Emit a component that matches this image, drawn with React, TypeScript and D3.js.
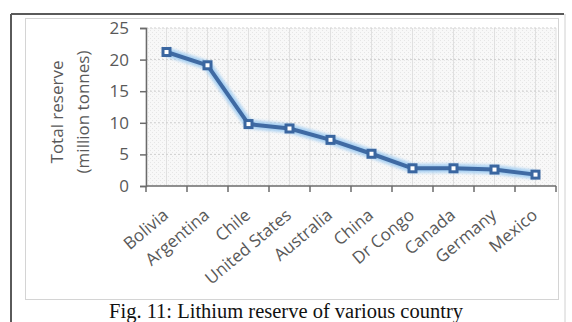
import React from "react";
import * as d3 from "d3";

const countries = ["Bolivia", "Argentina", "Chile", "United States", "Australia", "China", "Dr Congo", "Canada", "Germany", "Mexico"];
const reserves = [21.2, 19.1, 9.8, 9.1, 7.3, 5.1, 2.8, 2.8, 2.6, 1.8];
const yTicks = [0, 5, 10, 15, 20, 25];
const yTitle = ["Total reserve", "(million tonnes)"];
const caption = "Fig. 11: Lithium reserve of various country";

const W = 572;
const H = 322;
const margin = { left: 146, right: 16, top: 28, bottom: 136 };
const font = "Open Sans, sans-serif";

const App = () => {
    const svgRef = React.useRef(null);

    React.useEffect(() => {
        const xScale = d3
            .scaleBand()
            .domain(countries)
            .range([margin.left, W - margin.right]);
        const yScale = d3
            .scaleLinear()
            .domain([0, 25])
            .range([H - margin.bottom, margin.top]);

        const svgEl = d3.select(svgRef.current);
        svgEl.selectAll("*").remove();

        // hatch pattern for the plot area
        const defs = svgEl.append("defs");
        const pat = defs
            .append("pattern")
            .attr("id", "hatch")
            .attr("width", 4)
            .attr("height", 4)
            .attr("patternUnits", "userSpaceOnUse");
        pat.append("rect").attr("width", 4).attr("height", 4).attr("fill", "#f8f8f8");
        pat.append("rect").attr("width", 1).attr("height", 1).attr("fill", "#e6e6e6");
        pat.append("rect").attr("x", 2).attr("y", 2).attr("width", 1).attr("height", 1).attr("fill", "#e6e6e6");
        const glow = defs.append("filter").attr("id", "glow").attr("x", "-20%").attr("y", "-20%").attr("width", "140%").attr("height", "140%");
        glow.append("feGaussianBlur").attr("stdDeviation", 1.5);

        svgEl.append("rect").attr("width", W).attr("height", H).attr("fill", "white");

        // outer frame
        svgEl.append("line").attr("x1", 11).attr("x2", 564).attr("y1", 14).attr("y2", 14)
            .attr("stroke", "#5a5a5a").attr("stroke-width", 2);
        svgEl.append("line").attr("x1", 11).attr("x2", 11).attr("y1", 14).attr("y2", H)
            .attr("stroke", "#5a5a5a").attr("stroke-width", 2);
        svgEl.append("line").attr("x1", 565).attr("x2", 565).attr("y1", 14).attr("y2", H)
            .attr("stroke", "#d0d0d0").attr("stroke-width", 1);
        // inner chart box
        svgEl.append("rect").attr("x", 25.5).attr("y", 18.5).attr("width", 533).attr("height", 281)
            .attr("fill", "white").attr("stroke", "#d4d4d4");

        const [x0, x1] = xScale.range();
        const [y0, y1] = yScale.range();
        svgEl.append("rect").attr("x", x0).attr("y", y1).attr("width", x1 - x0).attr("height", y0 - y1)
            .attr("fill", "url(#hatch)");

        // vertical grid (band edges and centres)
        const bw = xScale.bandwidth();
        const vLines = [];
        countries.forEach((c) => {
            vLines.push(xScale(c));
            vLines.push(xScale(c) + bw / 2);
        });
        vLines.push(x1);
        svgEl.append("g").selectAll("line").data(vLines).enter().append("line")
            .attr("x1", (d) => d).attr("x2", (d) => d)
            .attr("y1", y1).attr("y2", y0)
            .attr("stroke", "#e0e0e0").attr("stroke-width", 1);

        // horizontal grid
        svgEl.append("g").selectAll("line").data(yTicks.slice(1)).enter().append("line")
            .attr("x1", x0).attr("x2", x1)
            .attr("y1", (d) => yScale(d)).attr("y2", (d) => yScale(d))
            .attr("stroke", "#cfcfcf").attr("stroke-dasharray", "2,2");

        // y axis
        const yAxis = d3.axisLeft(yScale).tickValues(yTicks).tickSize(6).tickPadding(11);
        const yAxisGroup = svgEl.append("g").attr("transform", `translate(${x0},0)`).call(yAxis);
        yAxisGroup.select(".domain").attr("stroke", "#6b6b6b").attr("stroke-width", 1.5);
        yAxisGroup.selectAll("line").attr("stroke", "#6b6b6b").attr("stroke-width", 1.5);
        yAxisGroup.selectAll("text")
            .attr("fill", "#595959")
            .attr("font-family", font)
            .attr("font-size", "17px");

        // x axis
        const xAxisGroup = svgEl.append("g").attr("transform", `translate(0,${y0})`);
        xAxisGroup.append("line").attr("x1", x0).attr("x2", x1).attr("stroke", "#6b6b6b").attr("stroke-width", 1.5);
        const edges = countries.map((c) => xScale(c)).concat([x1]);
        xAxisGroup.selectAll(".tick").data(edges).enter().append("line")
            .attr("x1", (d) => d).attr("x2", (d) => d).attr("y1", 0).attr("y2", 6)
            .attr("stroke", "#6b6b6b").attr("stroke-width", 1.5);
        xAxisGroup.selectAll("text").data(countries).enter().append("text")
            .attr("transform", (d) => `translate(${xScale(d) + bw / 2 + 3},${31}) rotate(-40)`)
            .attr("text-anchor", "end")
            .attr("fill", "#595959")
            .attr("font-family", font)
            .attr("font-size", "17px")
            .text((d) => d);

        // y title
        svgEl.append("g").selectAll("text").data(yTitle).enter().append("text")
            .attr("transform", (d, i) => `translate(${63 + i * 26},${112}) rotate(-90)`)
            .attr("text-anchor", "middle")
            .attr("fill", "#595959")
            .attr("font-family", font)
            .attr("font-size", "17px")
            .text((d) => d);

        // line with glow
        const pts = countries.map((c, i) => [xScale(c) + bw / 2, yScale(reserves[i])]);
        const line = d3.line();
        svgEl.append("path").attr("d", line(pts)).attr("fill", "none")
            .attr("stroke", "#a8d0f2").attr("stroke-width", 9).attr("filter", "url(#glow)");
        svgEl.append("path").attr("d", line(pts)).attr("fill", "none")
            .attr("stroke", "#3f6aa3").attr("stroke-width", 4).attr("stroke-linejoin", "round");
        svgEl.append("g").selectAll("rect").data(pts).enter().append("rect")
            .attr("x", (d) => d[0] - 3.5).attr("y", (d) => d[1] - 3.5)
            .attr("width", 7).attr("height", 7)
            .attr("fill", "white").attr("stroke", "#3a66a0").attr("stroke-width", 3);

        // caption
        svgEl.append("text").attr("x", 286).attr("y", 318)
            .attr("text-anchor", "middle")
            .attr("fill", "#111")
            .attr("font-family", "Liberation Serif, serif")
            .attr("font-size", "20.5px")
            .text(caption);
    }, []);

    return (
        <div style={{ position: "fixed", left: 0, top: 0 }}>
            <svg ref={svgRef} width={W} height={H} viewBox={`0 0 ${W} ${H}`} style={{ display: "block" }} />
        </div>
    );
};

export default App;
